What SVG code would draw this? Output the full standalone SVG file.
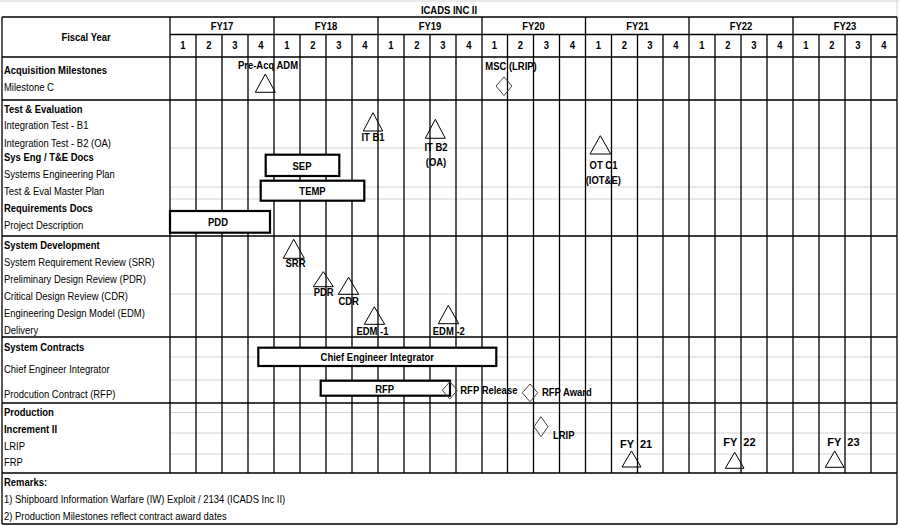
<svg xmlns="http://www.w3.org/2000/svg" width="899" height="526" viewBox="0 0 899 526">
<style>
.t{font-family:"Liberation Sans",Arial,sans-serif;font-size:11px;fill:#000}
.b{font-weight:bold}
.c{text-anchor:middle}
.g{stroke:#000;stroke-width:1.3;fill:none}
.lt{stroke:#d4d4d4;stroke-width:1;fill:none}
.bar{fill:#fff;stroke:#000;stroke-width:2.2}
.tri{fill:none;stroke:#000;stroke-width:1}
.dia{fill:none;stroke:#444;stroke-width:1}
</style>
<rect x="0" y="0" width="899" height="526" fill="#fff"/>
<g id="title">
<path class="lt" d="M0 1H899M897 0V17" stroke="#bbb"/>
<g transform="scale(0.86 1)"><text class="t b c" x="522.09" y="14" font-size="12">ICADS INC II</text></g>
</g>
<g id="grid">
<path class="lt" d="M170 148H897M170 187H897M170 199H897M170 294H897M170 357H897M170 380H897M170 412.5H897M170 433H897M170 454H897"/>
<path class="g" d="M2 17H897M170 34.5H897M2 57H897M2 100H897M2 236H897M2 337H897M2 403H897M2 473H897M2 524H897M2 17V524M897 17V524M170 17V473
M274 17V473M378 17V473M482 17V473M585.5 17V473M689 17V473M793 17V473
M196 34.5V473M222 34.5V473M248 34.5V473M300 34.5V473M326 34.5V473M352 34.5V473M404 34.5V473M430 34.5V473M456 34.5V473M507.5 34.5V473M533.5 34.5V473M559.5 34.5V473M611.5 34.5V473M637.5 34.5V473M663 34.5V473M715 34.5V473M741 34.5V473M767 34.5V473M819 34.5V473M845 34.5V473M871 34.5V473"/>
</g>
<g id="header" transform="scale(0.86 1)">
<text class="t b c" x="100" y="41">Fiscal Year</text>
<text class="t b c" x="258.14" y="30.5">FY17</text>
<text class="t b c" x="379.07" y="30.5">FY18</text>
<text class="t b c" x="500" y="30.5">FY19</text>
<text class="t b c" x="620.35" y="30.5">FY20</text>
<text class="t b c" x="741.28" y="30.5">FY21</text>
<text class="t b c" x="861.63" y="30.5">FY22</text>
<text class="t b c" x="982.56" y="30.5">FY23</text>
<g class="t b c">
<text x="212.79" y="49.5">1</text><text x="243.02" y="49.5">2</text><text x="273.26" y="49.5">3</text><text x="303.49" y="49.5">4</text>
<text x="333.72" y="49.5">1</text><text x="363.95" y="49.5">2</text><text x="394.19" y="49.5">3</text><text x="424.42" y="49.5">4</text>
<text x="454.65" y="49.5">1</text><text x="484.88" y="49.5">2</text><text x="515.12" y="49.5">3</text><text x="545.35" y="49.5">4</text>
<text x="575" y="49.5">1</text><text x="605.23" y="49.5">2</text><text x="635.47" y="49.5">3</text><text x="665.7" y="49.5">4</text>
<text x="695.93" y="49.5">1</text><text x="726.16" y="49.5">2</text><text x="755.81" y="49.5">3</text><text x="786.05" y="49.5">4</text>
<text x="816.28" y="49.5">1</text><text x="846.51" y="49.5">2</text><text x="876.74" y="49.5">3</text><text x="906.98" y="49.5">4</text>
<text x="937.21" y="49.5">1</text><text x="967.44" y="49.5">2</text><text x="997.67" y="49.5">3</text><text x="1027.91" y="49.5">4</text>
</g>
</g>
<g id="row-labels" class="t" transform="scale(0.86 1)">
<text class="b" x="4.65" y="74.5">Acquisition Milestones</text>
<text x="4.65" y="91.5">Milestone C</text>
<text class="b" x="4.65" y="113">Test &amp; Evaluation</text>
<text x="4.65" y="129.5">Integration Test - B1</text>
<text x="4.65" y="147">Integration Test - B2 (OA)</text>
<text class="b" x="4.65" y="161">Sys Eng / T&amp;E Docs</text>
<text x="4.65" y="178">Systems Engineering Plan</text>
<text x="4.65" y="195">Test &amp; Eval Master Plan</text>
<text class="b" x="4.65" y="212">Requirements Docs</text>
<text x="4.65" y="229">Project Description</text>
<text class="b" x="4.65" y="249">System Development</text>
<text x="4.65" y="266">System Requirement Review (SRR)</text>
<text x="4.65" y="283">Preliminary Design Review (PDR)</text>
<text x="4.65" y="300">Critical Design Review (CDR)</text>
<text x="4.65" y="317">Engineering Design Model (EDM)</text>
<text x="4.65" y="334">Delivery</text>
<text class="b" x="4.65" y="351">System Contracts</text>
<text x="4.65" y="373">Chief Engineer Integrator</text>
<text x="4.65" y="398.5">Prodcution Contract (RFP)</text>
<text class="b" x="4.65" y="416">Production</text>
<text class="b" x="4.65" y="433">Increment II</text>
<text x="4.65" y="450">LRIP</text>
<text x="4.65" y="466.5">FRP</text>
</g>
<g id="remarks" class="t" transform="scale(0.86 1)">
<text class="b" x="4.65" y="486">Remarks:</text>
<text x="4.65" y="503">1) Shipboard Information Warfare (IW) Exploit / 2134 (ICADS Inc II)</text>
<text x="4.65" y="520">2) Production Milestones reflect contract award dates</text>
</g>
<g id="pre-acq-adm">
<polygon class="tri" points="265.3,74 255.3,92.3 275.3,92.3"/>
<g transform="scale(0.86 1)"><text class="t b c" x="311.63" y="69.5">Pre-Acq ADM</text></g>
</g>
<g id="msc-lrip">
<polygon class="dia" points="504,77 512,86 504,95.5 496,86"/>
<g transform="scale(0.86 1)"><text class="t b c" x="594.19" y="70.5">MSC (LRIP)</text></g>
</g>
<g id="it-b1">
<polygon class="tri" points="373,112.7 363.3,131 382.7,131"/>
<g transform="scale(0.86 1)"><text class="t b c" x="433.72" y="141.5">IT B1</text></g>
</g>
<g id="it-b2">
<polygon class="tri" points="435.3,119.3 425.3,138.3 445.3,138.3"/>
<g transform="scale(0.86 1)"><text class="t b c" x="506.98" y="151.5">IT B2</text>
<text class="t b c" x="506.98" y="166">(OA)</text></g>
</g>
<g id="ot-c1">
<polygon class="tri" points="600.3,135.7 590,154 610.7,154"/>
<g transform="scale(0.86 1)"><text class="t b c" x="701.74" y="169.5">OT C1</text>
<text class="t b c" x="701.51" y="184">(IOT&amp;E)</text></g>
</g>
<g id="sep">
<rect class="bar" x="265.7" y="154.7" width="73.6" height="21.3"/>
<g transform="scale(0.86 1)"><text class="t b c" x="351.16" y="170.5">SEP</text></g>
</g>
<g id="temp">
<rect class="bar" x="260.7" y="180.7" width="103.6" height="20"/>
<g transform="scale(0.86 1)"><text class="t b c" x="363.37" y="195">TEMP</text></g>
</g>
<g id="pdd">
<rect class="bar" x="170" y="211" width="100" height="21.7"/>
<g transform="scale(0.86 1)"><text class="t b c" x="253.49" y="226.5">PDD</text></g>
</g>
<g id="srr">
<polygon class="tri" points="293.7,239.3 283.3,258.3 304.3,258.3"/>
<g transform="scale(0.86 1)"><text class="t b c" x="343.6" y="267">SRR</text></g>
</g>
<g id="pdr">
<polygon class="tri" points="323.3,271.7 313.3,286.7 333.3,286.7"/>
<g transform="scale(0.86 1)"><text class="t b c" x="376.4" y="296">PDR</text></g>
</g>
<g id="cdr">
<polygon class="tri" points="348.7,277.3 338.3,294.3 358.7,294.3"/>
<g transform="scale(0.86 1)"><text class="t b c" x="405.47" y="305">CDR</text></g>
</g>
<g id="edm-1">
<polygon class="tri" points="374.3,306.7 364.3,324.3 384.7,324.3"/>
<g transform="scale(0.86 1)"><text class="t b c" x="433.14" y="335">EDM -1</text></g>
</g>
<g id="edm-2">
<polygon class="tri" points="448.3,305.3 438.3,323.7 458.7,323.7"/>
<g transform="scale(0.86 1)"><text class="t b c" x="521.86" y="335">EDM -2</text></g>
</g>
<g id="chief-engineer-integrator">
<rect class="bar" x="258.3" y="347.7" width="238" height="18.3"/>
<g transform="scale(0.86 1)"><text class="t b c" x="438.72" y="361.5" font-size="10.6">Chief Engineer Integrator</text></g>
</g>
<g id="rfp">
<rect class="bar" x="320.7" y="380.7" width="129.3" height="15"/>
<g transform="scale(0.86 1)"><text class="t b c" x="447.33" y="393.5">RFP</text></g>
</g>
<g id="rfp-release">
<polygon class="dia" points="449.8,381.7 457.3,390.3 449.8,399 442.3,390.3"/>
<g transform="scale(0.86 1)"><text class="t b" x="535.23" y="394">RFP Release</text></g>
</g>
<g id="rfp-award">
<polygon class="dia" points="530,384 537.7,392.8 530,401.7 522.3,392.8"/>
<g transform="scale(0.86 1)"><text class="t b" x="630.23" y="396.5">RFP Award</text></g>
</g>
<g id="lrip">
<polygon class="dia" points="541,416.7 548,426.7 541,436.7 534,426.7"/>
<g transform="scale(0.86 1)"><text class="t b" x="643.02" y="439">LRIP</text></g>
</g>
<g id="fy21">
<polygon class="tri" points="631.5,451 622,467 641,467"/>
<text class="t b" x="620" y="447.5" xml:space="preserve">FY  21</text>
</g>
<g id="fy22">
<polygon class="tri" points="734.7,452.3 725.3,468.3 744,468.3"/>
<text class="t b" x="723.3" y="445.5" xml:space="preserve">FY  22</text>
</g>
<g id="fy23">
<polygon class="tri" points="834.7,451 825.3,467.3 844,467.3"/>
<text class="t b" x="827.3" y="445.5" xml:space="preserve">FY  23</text>
</g>
<g id="connectors"/>
</svg>
